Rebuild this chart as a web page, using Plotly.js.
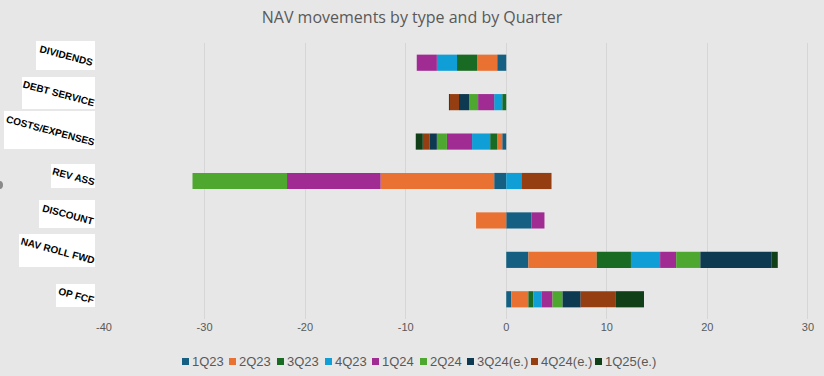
<!DOCTYPE html>
<html><head><meta charset="utf-8">
<script src="https://cdn.plot.ly/plotly-3.0.1.min.js"></script>
<style>html,body{margin:0;padding:0;background:#e7e7e7;} #chart{width:824px;height:376px;}</style>
</head><body><div id="chart"></div>
<script>
// ---- data ----
const categories = ['DIVIDENDS','DEBT SERVICE','COSTS/EXPENSES','REV ASS','DISCOUNT','NAV ROLL FWD','OP FCF'];
const seriesNames = ['1Q23','2Q23','3Q23','4Q23','1Q24','2Q24','3Q24(e.)','4Q24(e.)','1Q25(e.)'];
const v1Q23 = [-0.9,  0.0, -0.4,  -1.2,  2.5, 2.2, 0.5];
const v2Q23 = [-2.0,  0.0, -0.5, -11.3, -3.0, 6.8, 1.7];
const v3Q23 = [-2.0, -0.4, -0.7,   0.0,  0.0, 3.4, 0.5];
const v4Q23 = [-2.0, -0.8, -1.8,   1.5,  0.0, 2.9, 0.8];
const v1Q24 = [-2.0, -1.6, -2.5,  -9.3,  1.3, 1.6, 1.1];
const v2Q24 = [ 0.0, -0.9, -1.0,  -9.4,  0.0, 2.4, 1.0];
const v3Q24 = [ 0.0, -1.0, -0.7,   0.0,  0.0, 7.1, 1.8];
const v4Q24 = [ 0.0, -0.9, -0.7,   3.0,  0.0, 0.0, 3.5];
const v1Q25 = [ 0.0, -0.1, -0.7,   0.0,  0.0, 0.6, 2.8];
const xTicks = [-40,-30,-20,-10,0,10,20,30];

// ---- styles ----
const colors = ['#156082','#E97132','#196B24','#0F9ED5','#A02B93','#4EA72E','#0E3A51','#953E11','#113F17'];
const seriesValues = [v1Q23,v2Q23,v3Q23,v4Q23,v1Q24,v2Q24,v3Q24,v4Q24,v1Q25];

const W=824, H=376, L=104, R=6, T=43, B=57;
const PW=W-L-R, PH=H-T-B;
const px = x => (x-L)/PW;
const py = y => (H-B-y)/PH;

const traces = seriesNames.map((n,i)=>({
  type:'bar', orientation:'h', name:n,
  y: categories, x: seriesValues[i],
  marker:{color:colors[i], line:{width:0}},
  showlegend:false, hoverinfo:'skip'
}));

// label boxes (pixel geometry of the rotated category labels)
const labelBoxes = [[36,95,41,70],[22,95,77,109],[4,95,111,149],[51,95,164,188],[39,95,200,228],[19,95,234,267],[56,95,284,307]];
const shapes = [];
const annotations = [];
categories.forEach((c,i)=>{
  const b = labelBoxes[i];
  shapes.push({type:'rect', xref:'paper', yref:'paper', x0:px(b[0]), x1:px(b[1]), y0:py(b[3]), y1:py(b[2]),
    fillcolor:'#ffffff', line:{width:0}, layer:'above'});
  annotations.push({text:c, xref:'paper', yref:'paper', x:px((b[0]+b[1])/2+0.5), y:py((b[2]+b[3])/2),
    xanchor:'center', yanchor:'middle', showarrow:false, textangle:15,
    font:{family:'Liberation Sans, Arial, sans-serif', size:10, color:'#000', weight:'bold'}});
});
// small partially hidden mark at left edge
shapes.push({type:'circle', xref:'paper', yref:'paper', x0:px(-4), x1:px(3), y0:py(189), y1:py(181), fillcolor:'#8a8a8a', line:{width:0}});

// custom legend
const legendX = [182,229,277,325,372,420,467,531,595];
seriesNames.forEach((n,i)=>{
  const x0 = legendX[i];
  shapes.push({type:'rect', xref:'paper', yref:'paper', x0:px(x0), x1:px(x0+7), y0:py(365), y1:py(358),
    fillcolor:colors[i], line:{width:0}});
  annotations.push({text:n, xref:'paper', yref:'paper', x:px(x0+8), y:py(361.5), xanchor:'left', yanchor:'middle',
    showarrow:false, font:{family:'Liberation Sans Narrow, Arial Narrow, sans-serif', size:13, color:'#595959'}});
});

const layout = {
  width:W, height:H,
  margin:{l:L, r:R, t:T, b:B, pad:0},
  paper_bgcolor:'#e7e7e7', plot_bgcolor:'#e7e7e7',
  barmode:'relative', bargap:0.59,
  title:{text:'NAV movements by type and by Quarter', x:0.5, xanchor:'center', xref:'container',
    y:1-17/H, yanchor:'middle', yref:'container',
    font:{family:'Open Sans, sans-serif', size:16, color:'#595959'}},
  xaxis:{range:[-40,31], tickvals:xTicks, ticktext:xTicks.map(String), showgrid:true, gridcolor:'#d6d6d6', gridwidth:1,
    zeroline:false, showline:false, ticks:'', tickfont:{family:'Liberation Sans Narrow, Arial Narrow, sans-serif', size:11, color:'#595959'}},
  yaxis:{autorange:'reversed', showticklabels:false, showgrid:false, zeroline:false, showline:false, ticks:''},
  showlegend:false,
  shapes:shapes, annotations:annotations
};
Plotly.newPlot('chart', traces, layout, {staticPlot:true, displayModeBar:false});
</script></body></html>
